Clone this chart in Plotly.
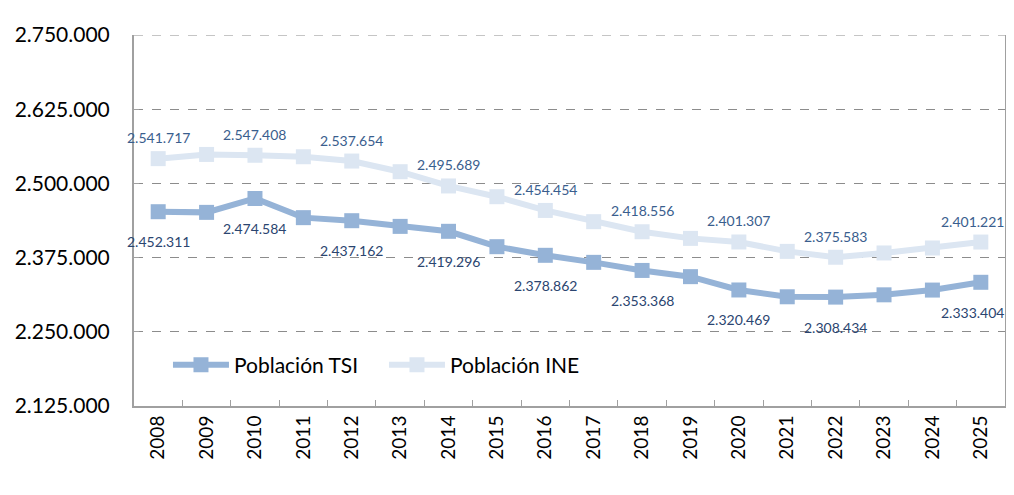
import plotly.graph_objects as go

# Datos
years = [str(y) for y in range(2008, 2026)]
poblacion_tsi = [2452311, 2451200, 2474584, 2442300, 2437162, 2427600, 2419296, 2393400, 2378862,
                 2367000, 2353368, 2342900, 2320469, 2309000, 2308434, 2312300, 2320300, 2333404]
poblacion_ine = [2541717, 2548800, 2547408, 2544900, 2537654, 2519700, 2495689, 2477600, 2454454,
                 2435500, 2418556, 2407400, 2401307, 2385500, 2375583, 2382800, 2391200, 2401221]
label_years = ['2008', '2010', '2012', '2014', '2016', '2018', '2020', '2022', '2025']
y_ticks = [2125000, 2250000, 2375000, 2500000, 2625000, 2750000]
y_tick_labels = ['2.125.000', '2.250.000', '2.375.000', '2.500.000', '2.625.000', '2.750.000']


def fmt(v):
    return f'{v:,}'.replace(',', '.')


FONT = 'Lato'
GRID = '#8C8C8C'

fig = go.Figure()

fig.add_trace(go.Scatter(x=years, y=poblacion_tsi, name='Población TSI',
                         mode='lines+markers',
                         line=dict(color='#95B3D7', width=6),
                         marker=dict(symbol='square', size=15, color='#95B3D7')))
fig.add_trace(go.Scatter(x=years, y=poblacion_ine, name='Población INE',
                         mode='lines+markers',
                         line=dict(color='#DCE6F2', width=6),
                         marker=dict(symbol='square', size=15, color='#DCE6F2')))

# Etiquetas de datos (x = índice de categoría)
annotations = []
for i, (yr, v_tsi, v_ine) in enumerate(zip(years, poblacion_tsi, poblacion_ine)):
    if yr not in label_years:
        continue
    xs = -8 if yr == years[-1] else 0
    annotations.append(dict(x=i, y=v_tsi, text=fmt(v_tsi), showarrow=False,
                            yshift=-30, xshift=xs,
                            font=dict(family=FONT, size=14, color='#2B4570')))
    annotations.append(dict(x=i, y=v_ine, text=fmt(v_ine), showarrow=False,
                            yshift=21, xshift=xs,
                            font=dict(family=FONT, size=14, color='#3A5E8E')))

# línea discontinua superior (la rejilla del borde no se dibuja)
fig.add_shape(type='line', xref='paper', x0=0, x1=1, yref='y', y0=y_ticks[-1], y1=y_ticks[-1],
              line=dict(color=GRID, width=1, dash='dash'))

# la página añade 8 px de margen al body: figura algo más pequeña
fig.update_layout(
    width=1006, height=487,
    margin=dict(l=123, r=7, t=27, b=89),
    paper_bgcolor='white', plot_bgcolor='white',
    font=dict(family=FONT, color='black'),
    annotations=annotations,
    showlegend=True,
    legend=dict(orientation='h', x=0.039, y=0.11, xanchor='left', yanchor='middle',
                font=dict(family=FONT, size=21, color='black'),
                bgcolor='rgba(0,0,0,0)', itemwidth=56, entrywidth=145, tracegroupgap=0),
    xaxis=dict(type='category', range=[-0.5, len(years) - 0.5], tickangle=-90,
               showline=True, linecolor='#A0A0A0', linewidth=2,
               ticks='inside', ticklen=6, tickcolor='#A0A0A0', tickson='boundaries',
               showgrid=False, tickfont=dict(family=FONT, size=19, color='black')),
    yaxis=dict(range=[2125000, 2750000], tickvals=y_ticks, ticktext=y_tick_labels,
               showline=True, linecolor='#A0A0A0', linewidth=2, mirror=True,
               ticks='inside', ticklen=5, tickcolor='#A0A0A0',
               showgrid=True, gridcolor=GRID, gridwidth=1, griddash='dash',
               zeroline=False, ticklabelstandoff=18,
               tickfont=dict(family=FONT, size=21, color='black')),
)

fig.write_html("out.html")
